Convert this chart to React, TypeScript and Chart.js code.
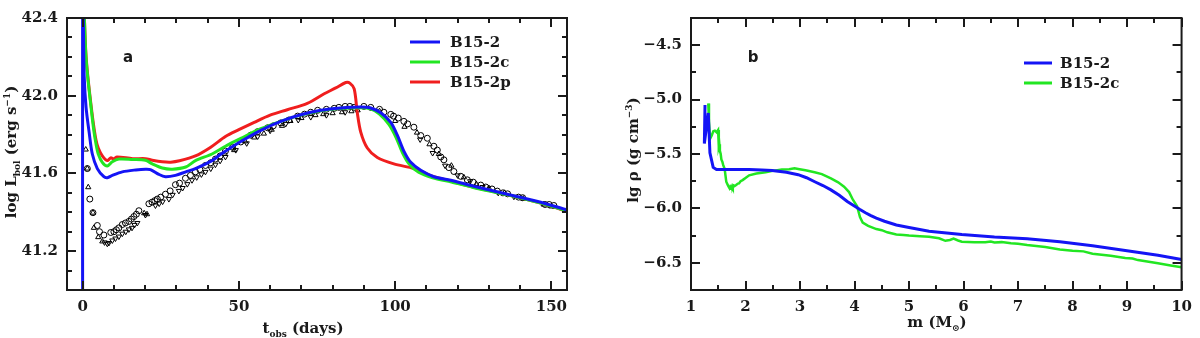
import React, { useEffect, useRef } from "react";
import { Chart, registerables } from "chart.js";
Chart.register(...registerables);

// ---------- Panel a: bolometric light curves ----------
const blueDay = [0, 0, 0.3, 0.5, 1.1, 2.1, 3.1, 4.7, 6.8, 7.9, 9.5, 12.7, 17, 20.1, 21.7, 24.4, 26.5, 29.7, 33, 36.1, 41.4, 44.2, 50.6, 57, 63.4, 69.8, 76.2, 82.6, 89, 92.2, 95.4, 98.6, 100.7, 102.8, 105, 108.2, 112.4, 117.8, 125.2, 135.9, 146.6, 155.5];
const blueL = [40.9, 42.6, 42.29, 42.1, 41.94, 41.81, 41.7, 41.625, 41.583, 41.578, 41.59, 41.608, 41.618, 41.622, 41.62, 41.595, 41.583, 41.59, 41.608, 41.625, 41.666, 41.699, 41.764, 41.822, 41.868, 41.902, 41.925, 41.937, 41.942, 41.937, 41.912, 41.863, 41.797, 41.715, 41.657, 41.616, 41.583, 41.565, 41.534, 41.493, 41.452, 41.41];

const greenDay = [0.45, 1.0, 1.6, 2.7, 3.5, 4.3, 5.0, 6.3, 7.9, 9.5, 11.6, 16, 20.1, 22.3, 25.5, 28.7, 33, 36.1, 41.4, 45.7, 50.6, 57, 63.4, 69.8, 76.2, 82.6, 89, 92.2, 95, 98, 100.3, 102.4, 104.5, 107.5, 112, 118, 125, 135.9, 146.6, 155.5];
const greenL = [42.45, 42.22, 42.1, 41.94, 41.83, 41.75, 41.7, 41.657, 41.638, 41.66, 41.674, 41.672, 41.668, 41.649, 41.628, 41.622, 41.633, 41.666, 41.7, 41.74, 41.78, 41.83, 41.868, 41.9, 41.922, 41.935, 41.938, 41.932, 41.905, 41.852, 41.785, 41.705, 41.648, 41.606, 41.578, 41.556, 41.528, 41.49, 41.447, 41.405];

const redDay = [0.45, 1.0, 1.6, 2.7, 3.5, 4.3, 5.0, 6.3, 7.9, 9, 10, 11, 16, 20.1, 22.3, 25.5, 28.2, 31, 36.1, 41, 45.7, 50, 54.9, 60, 65.5, 71.9, 77.3, 81, 84.2, 85.5, 86.9, 87.9, 89, 91.1, 94.3, 99.6, 106, 112.4, 118, 125, 135.9, 146.6, 155.5];
const redL = [42.45, 42.23, 42.11, 41.95, 41.85, 41.77, 41.73, 41.69, 41.666, 41.68, 41.675, 41.685, 41.676, 41.676, 41.668, 41.66, 41.658, 41.665, 41.69, 41.735, 41.79, 41.825, 41.863, 41.9, 41.928, 41.961, 42.01, 42.04, 42.068, 42.065, 42.035, 41.912, 41.813, 41.731, 41.682, 41.649, 41.625, 41.583, 41.56, 41.53, 41.49, 41.447, 41.403];

const obsCircDay = [1.5, 2.3, 3.3, 4.7, 5.4, 6.8, 9.0, 10.0, 10.8, 11.6, 12.7, 13.7, 14.8, 15.6, 16.4, 17.2, 18.0, 21.2, 22.2, 23.1, 23.9, 25.0, 26.5, 28.0, 29.7, 31.0, 32.9, 34.5, 36.1, 37.5, 39.3, 41.0, 42.5, 44.0, 45.7, 48.0, 50.6, 53.8, 56.0, 59.2, 61.0, 63.4, 66.0, 68.8, 71.0, 73.0, 75.2, 78.0, 80.5, 82.0, 84.0, 85.5, 86.9, 90.0, 92.2, 95.0, 96.4, 98.6, 99.5, 101.0, 102.8, 104.0, 106.0, 108.2, 110.3, 112.4, 113.5, 114.6, 115.6, 117.2, 118.8, 121.0, 123.1, 125.0, 127.4, 129.0, 131.0, 132.7, 134.5, 136.0, 139.5, 140.8, 148.0, 149.3, 150.8];
const obsCircL = [41.625, 41.468, 41.398, 41.332, 41.3, 41.283, 41.296, 41.3, 41.31, 41.32, 41.337, 41.345, 41.353, 41.365, 41.378, 41.39, 41.408, 41.444, 41.452, 41.46, 41.468, 41.478, 41.493, 41.51, 41.542, 41.55, 41.575, 41.59, 41.608, 41.62, 41.641, 41.655, 41.674, 41.69, 41.715, 41.735, 41.762, 41.797, 41.815, 41.835, 41.845, 41.86, 41.875, 41.895, 41.905, 41.915, 41.925, 41.93, 41.935, 41.94, 41.945, 41.945, 41.94, 41.945, 41.94, 41.93, 41.915, 41.904, 41.895, 41.885, 41.868, 41.855, 41.838, 41.795, 41.781, 41.74, 41.72, 41.685, 41.67, 41.63, 41.61, 41.585, 41.567, 41.555, 41.54, 41.53, 41.52, 41.509, 41.5, 41.495, 41.478, 41.475, 41.44, 41.44, 41.435];

const obsTriDay = [1.0, 1.5, 1.8, 3.3, 3.6, 5.0, 6.3, 19.7, 20.6, 45.5, 48.5, 52, 54.9, 58, 60.5, 63.8, 66.5, 70, 74.5, 77, 80, 83, 86, 88, 95, 100, 103, 107, 111, 114, 118, 122, 126, 130, 135, 141, 147.5, 150];
const obsTriL = [41.723, 41.625, 41.529, 41.398, 41.32, 41.272, 41.25, 41.395, 41.39, 41.7, 41.72, 41.765, 41.785, 41.805, 41.825, 41.845, 41.87, 41.885, 41.9, 41.905, 41.91, 41.915, 41.92, 41.925, 41.92, 41.87, 41.84, 41.81, 41.75, 41.7, 41.64, 41.58, 41.545, 41.525, 41.5, 41.47, 41.44, 41.43];

const obsDownDay = [7.0, 7.9, 8.4, 9.5, 10.5, 11.6, 12.7, 13.8, 14.8, 15.8, 16.6, 17.5, 20.1, 23.3, 24.5, 25.6, 27.6, 28.8, 30.8, 32, 33.5, 35.0, 36.5, 38, 39.3, 41, 42.5, 44, 45.7, 49, 52.5, 56, 60, 65, 69, 73, 78, 84, 108, 112, 116, 120, 124, 128, 133, 138];
const obsDownL = [41.245, 41.238, 41.242, 41.255, 41.265, 41.275, 41.29, 41.3, 41.312, 41.32, 41.335, 41.345, 41.386, 41.435, 41.445, 41.455, 41.468, 41.49, 41.51, 41.525, 41.545, 41.565, 41.58, 41.595, 41.608, 41.625, 41.645, 41.665, 41.685, 41.72, 41.755, 41.79, 41.82, 41.855, 41.875, 41.89, 41.9, 41.915, 41.775, 41.705, 41.64, 41.59, 41.56, 41.53, 41.5, 41.48];

const aXTicks = [0, 50, 100, 150];
const aYTicks = [41.2, 41.6, 42.0, 42.4];
const aLabels = ["B15-2", "B15-2c", "B15-2p"];

// ---------- Panel b: density profiles ----------
const bBlueM = [1.257, 1.245, 1.317, 1.347, 1.407, 1.468, 1.8, 2.067, 2.3, 2.487, 2.75, 2.967, 3.12, 3.27, 3.42, 3.567, 3.72, 3.867, 3.99, 4.1, 4.2, 4.3, 4.4, 4.55, 4.767, 5.0, 5.367, 5.968, 6.567, 7.167, 7.767, 8.367, 8.967, 9.567, 10.0];
const bBlueRho = [-5.05, -5.403, -5.123, -5.49, -5.623, -5.643, -5.643, -5.643, -5.646, -5.652, -5.668, -5.69, -5.718, -5.755, -5.79, -5.83, -5.88, -5.937, -5.975, -6.01, -6.04, -6.066, -6.09, -6.118, -6.152, -6.175, -6.21, -6.24, -6.263, -6.278, -6.307, -6.343, -6.387, -6.43, -6.47];

const bGreenM = [1.317, 1.33, 1.35, 1.38, 1.41, 1.437, 1.47, 1.497, 1.51, 1.52, 1.53, 1.545, 1.557, 1.575, 1.59, 1.617, 1.647, 1.68, 1.707, 1.72, 1.74, 1.755, 1.767, 1.785, 1.8, 1.828, 1.86, 1.88, 1.91, 1.947, 2.0, 2.067, 2.2, 2.368, 2.5, 2.667, 2.8, 2.9, 2.967, 3.1, 3.268, 3.4, 3.567, 3.7, 3.808, 3.9, 3.97, 4.047, 4.1, 4.15, 4.25, 4.4, 4.5, 4.6, 4.767, 4.9, 5.0, 5.2, 5.367, 5.55, 5.667, 5.75, 5.817, 5.9, 5.968, 6.2, 6.4, 6.5, 6.567, 6.7, 6.87, 7.0, 7.167, 7.5, 7.767, 8.0, 8.2, 8.367, 8.7, 8.967, 9.1, 9.2, 9.567, 9.8, 10.0];
const bGreenRho = [-5.035, -5.2, -5.36, -5.33, -5.29, -5.285, -5.3, -5.28, -5.43, -5.41, -5.47, -5.5, -5.55, -5.57, -5.6, -5.637, -5.755, -5.79, -5.814, -5.8, -5.815, -5.795, -5.81, -5.79, -5.795, -5.785, -5.772, -5.77, -5.75, -5.74, -5.72, -5.696, -5.68, -5.667, -5.655, -5.643, -5.64, -5.632, -5.637, -5.65, -5.667, -5.685, -5.725, -5.76, -5.8, -5.85, -5.92, -5.98, -6.08, -6.13, -6.16, -6.19, -6.2, -6.22, -6.24, -6.245, -6.25, -6.255, -6.26, -6.275, -6.298, -6.29, -6.278, -6.295, -6.307, -6.31, -6.312, -6.305, -6.313, -6.31, -6.32, -6.325, -6.337, -6.355, -6.378, -6.39, -6.395, -6.417, -6.435, -6.455, -6.46, -6.475, -6.505, -6.525, -6.54];

const bXTicks = [1, 2, 3, 4, 5, 6, 7, 8, 9, 10];
const bYTicks = [-6.5, -6.0, -5.5, -5.0, -4.5];
const bLabels = ["B15-2", "B15-2c"];

const BLUE = "#1414f5";
const GREEN = "#22e622";
const RED = "#f01e1e";
const INK = "#1a1a1a";
const SERIF = "'DejaVu Serif', serif";

const pts = (xs: number[], ys: number[]) => xs.map((x, i) => ({ x, y: ys[i] }));

type Part = { t: string; sub?: boolean; sup?: boolean };

function drawRich(ctx: CanvasRenderingContext2D, parts: Part[], x: number, y: number, size: number, rotate: boolean) {
  ctx.save();
  ctx.translate(x, y);
  if (rotate) ctx.rotate(-Math.PI / 2);
  const small = Math.round(size * 0.62);
  const fontFor = (p: Part) => `bold ${p.sub || p.sup ? small : size}px ${SERIF}`;
  let total = 0;
  parts.forEach((p) => {
    ctx.font = fontFor(p);
    total += ctx.measureText(p.t).width;
  });
  let cx = -total / 2;
  ctx.fillStyle = INK;
  ctx.textBaseline = "alphabetic";
  ctx.textAlign = "left";
  parts.forEach((p) => {
    ctx.font = fontFor(p);
    const dy = p.sub ? size * 0.28 : p.sup ? -size * 0.42 : 0;
    ctx.fillText(p.t, cx, dy);
    cx += ctx.measureText(p.t).width;
  });
  ctx.restore();
}

const framePlugin = {
  id: "frame",
  afterDraw(chart: any, _args: any, opts: any) {
    const ctx: CanvasRenderingContext2D = chart.ctx;
    const ca = chart.chartArea;
    const xs = chart.scales.x;
    const ys = chart.scales.y;
    ctx.save();
    ctx.strokeStyle = INK;
    ctx.lineWidth = 2;
    const tick = (vals: number[], len: number, horiz: boolean) => {
      vals.forEach((v) => {
        ctx.beginPath();
        if (horiz) {
          const p = Math.round(xs.getPixelForValue(v));
          ctx.moveTo(p, ca.bottom);
          ctx.lineTo(p, ca.bottom - len);
          ctx.moveTo(p, ca.top);
          ctx.lineTo(p, ca.top + len);
        } else {
          const p = Math.round(ys.getPixelForValue(v));
          ctx.moveTo(ca.left, p);
          ctx.lineTo(ca.left + len, p);
          ctx.moveTo(ca.right, p);
          ctx.lineTo(ca.right - len, p);
        }
        ctx.stroke();
      });
    };
    const steps = (min: number, max: number, step: number) => {
      const out: number[] = [];
      for (let k = Math.ceil(min / step - 1e-9); k * step <= max + 1e-9; k++) out.push(k * step);
      return out;
    };
    tick(steps(xs.min, xs.max, opts.xMinor), 5, true);
    tick(steps(xs.min, xs.max, opts.xMajor), 9, true);
    tick(steps(ys.min, ys.max, opts.yMinor), 5, false);
    tick(steps(ys.min, ys.max, opts.yMajor), 9, false);
    ctx.lineWidth = 2;
    ctx.strokeRect(ca.left, ca.top, ca.right - ca.left, ca.bottom - ca.top);

    // panel letter
    ctx.fillStyle = INK;
    ctx.font = `bold 15px 'DejaVu Sans', sans-serif`;
    ctx.textAlign = "center";
    ctx.textBaseline = "middle";
    ctx.fillText(opts.letter, opts.letterX, opts.letterY);

    // legend
    ctx.font = `bold 15px ${SERIF}`;
    ctx.textAlign = "left";
    opts.legend.forEach((lab: string, i: number) => {
      const y = opts.legY + i * opts.legDy;
      ctx.strokeStyle = chart.data.datasets[i].borderColor;
      ctx.lineWidth = 3;
      ctx.beginPath();
      ctx.moveTo(opts.legX, y);
      ctx.lineTo(opts.legX + opts.legLine, y);
      ctx.stroke();
      ctx.fillStyle = INK;
      ctx.fillText(lab, opts.legX + opts.legLine + opts.legGap, y + 1);
    });

    // axis titles
    drawRich(ctx, opts.xTitle, opts.xTitleX, opts.xTitleY, 15, false);
    drawRich(ctx, opts.yTitle, opts.yTitleX, opts.yTitleY, 15, true);
    ctx.restore();
  },
};

function makeScale(min: number, max: number, ticksArr: number[], fmt: (v: number) => string, isX: boolean, size: number, pad: number) {
  return {
    type: "linear" as const,
    min,
    max,
    afterBuildTicks: (s: any) => {
      s.ticks = ticksArr.map((v) => ({ value: v }));
    },
    afterFit: (s: any) => {
      if (isX) s.height = size;
      else s.width = size;
    },
    grid: { display: false, drawTicks: false },
    border: { display: false },
    title: { display: false },
    ticks: {
      autoSkip: false,
      maxRotation: 0,
      padding: pad,
      color: INK,
      font: { family: SERIF, size: 15, weight: "bold" },
      callback: (v: any) => fmt(Number(v)),
    },
  };
}

const lineDs = (label: string, data: any[], color: string, order: number) => ({
  label,
  data,
  borderColor: color,
  backgroundColor: color,
  borderWidth: 3,
  pointRadius: 0,
  showLine: true,
  tension: 0.3,
  order,
  clip: 0,
});

const markDs = (label: string, data: any[], style: string, rot: number, order: number) => ({
  label,
  data,
  showLine: false,
  pointStyle: style,
  rotation: rot,
  pointRadius: 3,
  pointBorderWidth: 1,
  borderColor: "#000",
  backgroundColor: "rgba(255,255,255,0)",
  order,
  clip: 0,
});

function PanelA() {
  const ref = useRef<HTMLCanvasElement>(null);
  useEffect(() => {
    const chart = new Chart(ref.current!, {
      type: "scatter",
      data: {
        datasets: [
          lineDs(aLabels[0], pts(blueDay, blueL), BLUE, 1),
          lineDs(aLabels[1], pts(greenDay, greenL), GREEN, 2),
          lineDs(aLabels[2], pts(redDay, redL), RED, 3),
          markDs("obs circles", pts(obsCircDay, obsCircL), "circle", 0, 4),
          markDs("obs triangles", pts(obsTriDay, obsTriL), "triangle", 0, 5),
          markDs("obs inverted", pts(obsDownDay, obsDownL), "triangle", 180, 6),
        ] as any,
      },
      options: {
        animation: false,
        responsive: false,
        devicePixelRatio: 1,
        layout: { padding: { left: 0, right: 33, top: 6, bottom: 0 } },
        plugins: {
          legend: { display: false },
          tooltip: { enabled: false },
          frame: {
            xMajor: 50, xMinor: 10, yMajor: 0.4, yMinor: 0.1,
            letter: "a", letterX: 128, letterY: 58,
            legend: aLabels, legX: 410, legY: 42, legDy: 20, legLine: 30, legGap: 10,
            xTitle: [{ t: "t" }, { t: "obs", sub: true }, { t: " (days)" }], xTitleX: 303, xTitleY: 333,
            yTitle: [{ t: "log L" }, { t: "bol", sub: true }, { t: " (erg s" }, { t: "−1", sup: true }, { t: ")" }], yTitleX: 16, yTitleY: 152,
          },
        } as any,
        scales: {
          x: makeScale(-5, 155, aXTicks, (v) => String(v), true, 48, 8),
          y: makeScale(41.0, 42.4, aYTicks, (v) => v.toFixed(1), false, 67, 9),
        } as any,
      },
      plugins: [framePlugin],
    });
    return () => chart.destroy();
  }, []);
  return <canvas ref={ref} width={600} height={338} style={{ position: "absolute", left: 0, top: 0, width: 600, height: 338 }} />;
}

function PanelB() {
  const ref = useRef<HTMLCanvasElement>(null);
  useEffect(() => {
    const chart = new Chart(ref.current!, {
      type: "scatter",
      data: {
        datasets: [
          { ...lineDs(bLabels[0], pts(bBlueM, bBlueRho), BLUE, 1), tension: 0 },
          { ...lineDs(bLabels[1], pts(bGreenM, bGreenRho), GREEN, 2), tension: 0, borderWidth: 2.5 },
        ] as any,
      },
      options: {
        animation: false,
        responsive: false,
        devicePixelRatio: 1,
        layout: { padding: { left: 0, right: 9, top: 6, bottom: 0 } },
        plugins: {
          legend: { display: false },
          tooltip: { enabled: false },
          frame: {
            xMajor: 1, xMinor: 0.5, yMajor: 0.5, yMinor: 0.25,
            letter: "b", letterX: 153, letterY: 58,
            legend: bLabels, legX: 424, legY: 63, legDy: 20, legLine: 28, legGap: 8,
            xTitle: [{ t: "m (M" }, { t: "⊙", sub: true }, { t: ")" }], xTitleX: 337, xTitleY: 327,
            yTitle: [{ t: "lg ρ (g cm" }, { t: "−3", sup: true }, { t: ")" }], yTitleX: 38, yTitleY: 150,
          },
        } as any,
        scales: {
          x: makeScale(1, 10, bXTicks, (v) => String(v), true, 48, 8),
          y: makeScale(-6.75, -4.25, bYTicks, (v) => (v < 0 ? "−" : "") + Math.abs(v).toFixed(1), false, 91, 9),
        } as any,
      },
      plugins: [framePlugin],
    });
    return () => chart.destroy();
  }, []);
  return <canvas ref={ref} width={600} height={338} style={{ position: "absolute", left: 600, top: 0, width: 600, height: 338 }} />;
}

export default function App() {
  return (
    <div style={{ position: "absolute", left: 0, top: 0, width: 1200, height: 338, background: "#fff" }}>
      <PanelA />
      <PanelB />
    </div>
  );
}
